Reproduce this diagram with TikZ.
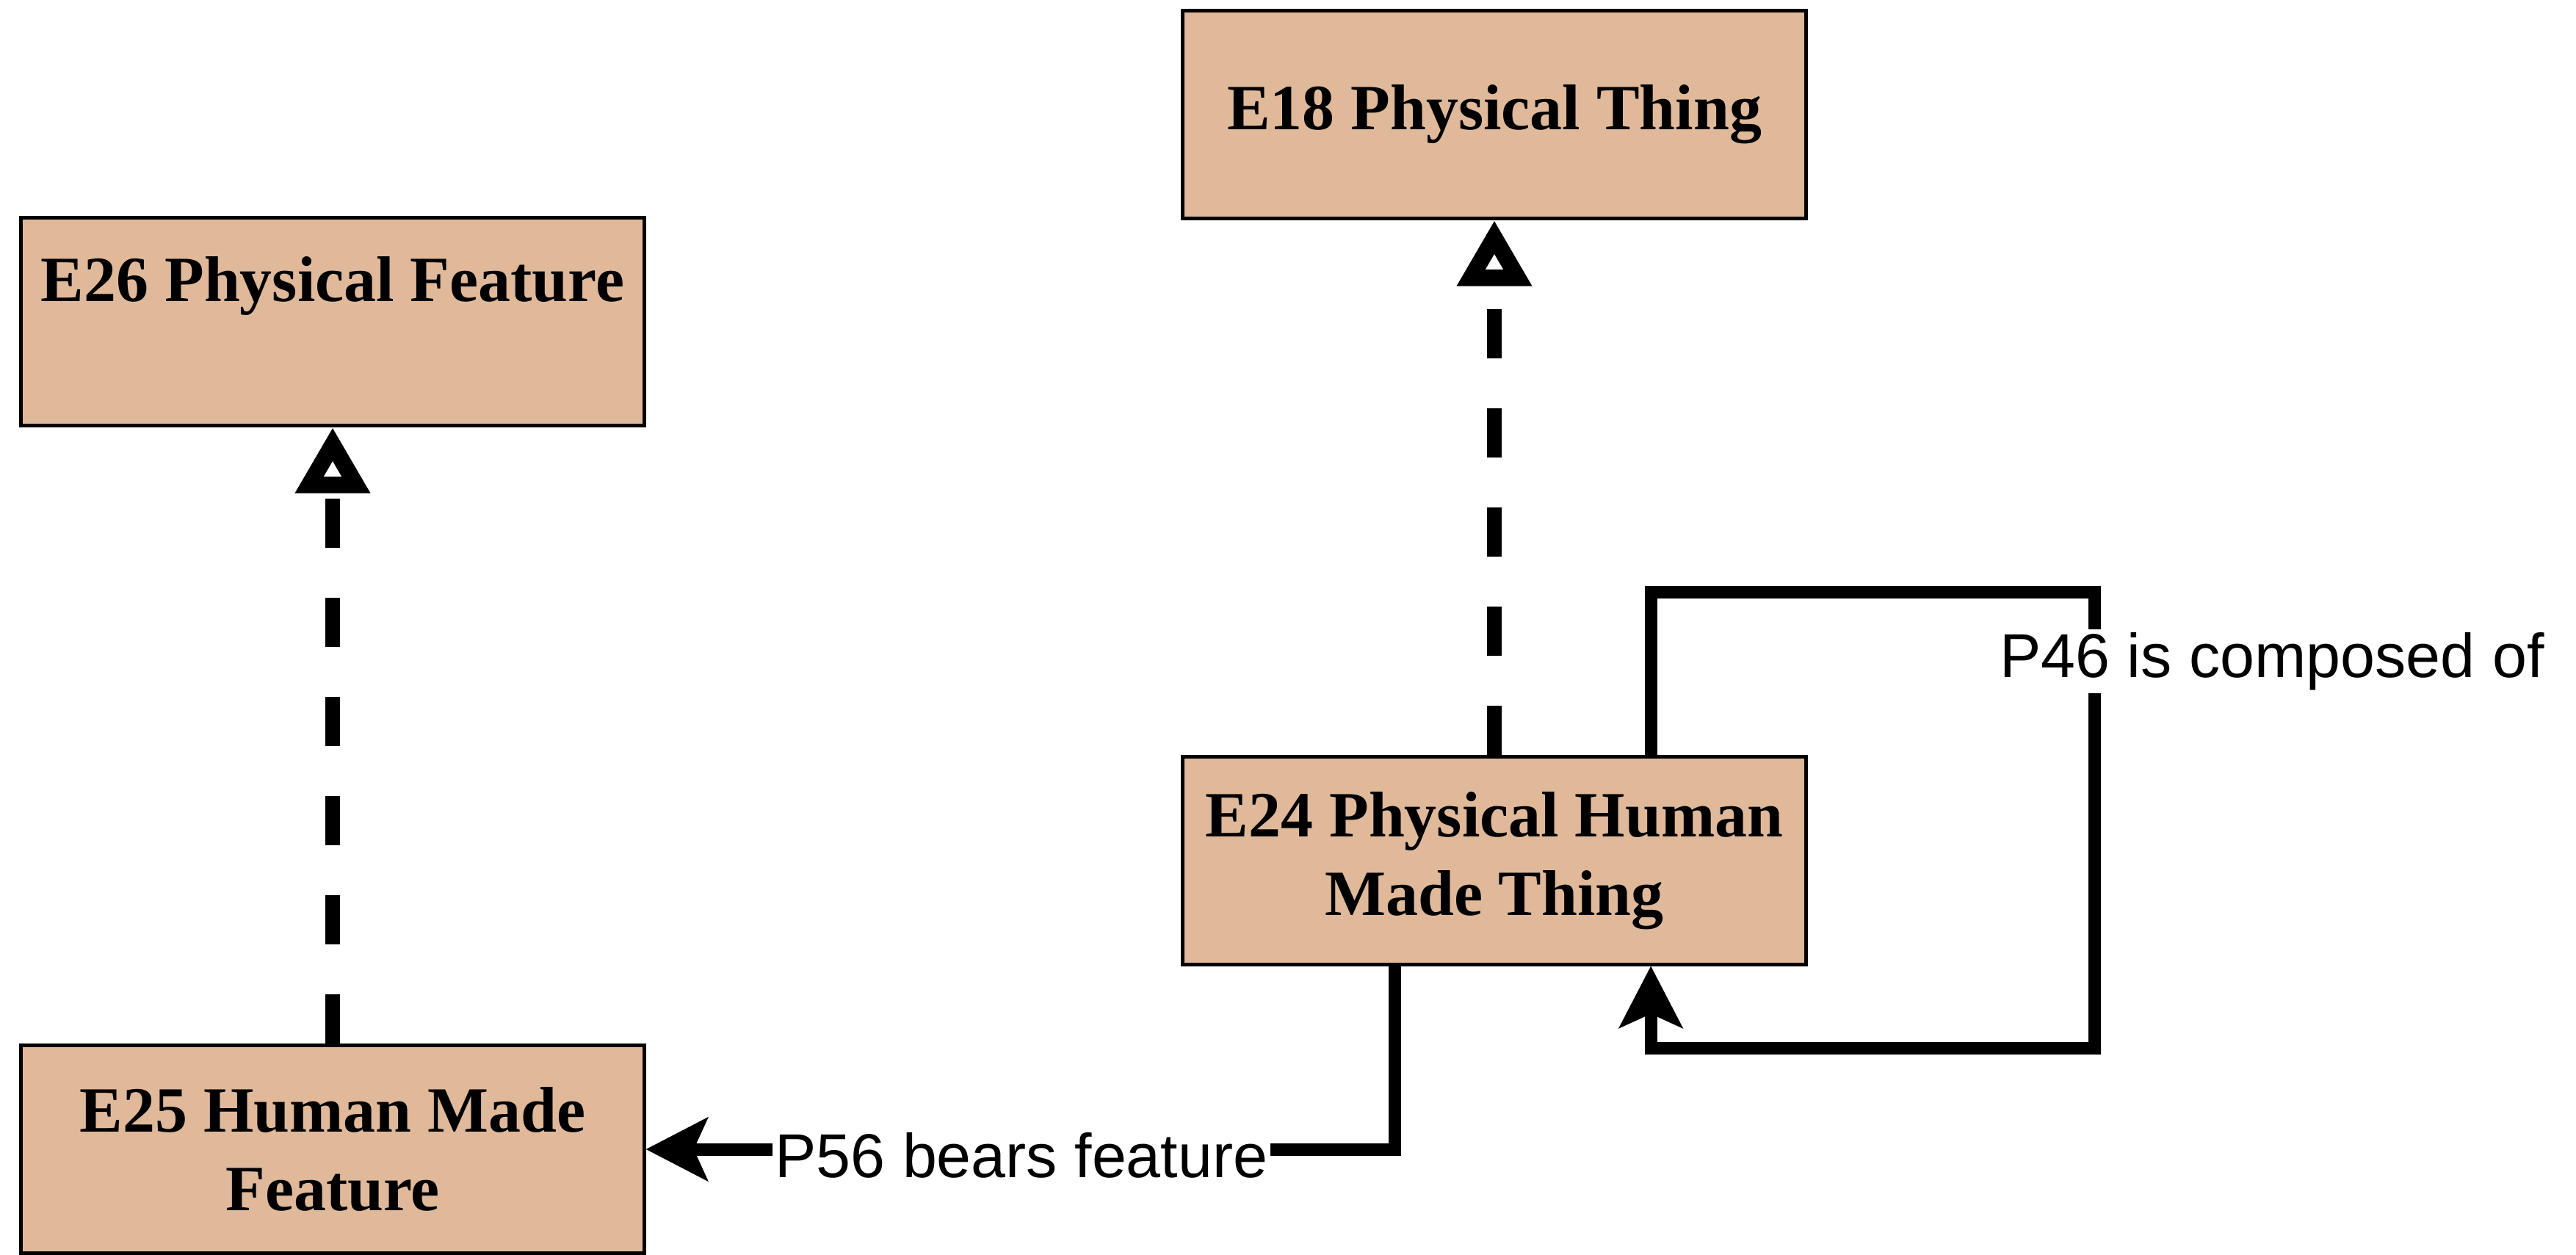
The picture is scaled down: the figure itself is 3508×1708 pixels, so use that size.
\documentclass[tikz,border=0pt]{standalone}
\usepackage{fontspec}
\setmainfont{Liberation Serif}
\newfontfamily\lblfont{Liberation Sans}
\usetikzlibrary{arrows.meta}
\definecolor{boxfill}{RGB}{224,185,155}
\begin{document}
\begin{tikzpicture}[x=0.01cm,y=-0.01cm,
  classbox/.style={draw=black, line width=0.5mm, fill=boxfill,
    minimum width=8.48cm, minimum height=2.82cm, inner sep=0pt,
    align=center, text=black,
    font=\fontsize{25pt}{30.4pt}\selectfont\bfseries},
  boxtext/.style={inner sep=0pt, text=black,
    font=\fontsize{25pt}{30.4pt}\selectfont\bfseries},
  isa/.style={line width=2mm, dash pattern=on 6.7mm off 6.8mm,
    -{Triangle[open, length=9mm, width=9.6mm, line width=4mm]}},
  conn/.style={line width=1.7mm, line join=miter,
    -{Stealth[length=8.5mm, width=8.8mm, inset=2mm, line width=0.3mm]}},
  lbl/.style={fill=white, inner sep=0.4mm, text=black,
    font=\lblfont\fontsize{24pt}{28pt}\selectfont}]
\useasboundingbox (0,0) rectangle (3508,1708);

% classes
\node[classbox] (e18) at (2035,156) {E18 Physical Thing};
\node[classbox] (e26) at (453,438) {};
\node[boxtext, anchor=base] (e26t) at (453,410) {E26 Physical Feature};
\node[classbox] (e24) at (2035,1172) {E24 Physical Human\\Made Thing};
\node[classbox] (e25) at (453,1565) {E25 Human Made\\Feature};

% subclass links
\draw[isa] (e24.north) -- (e18.south);
\draw[isa] (e25.north) -- (e26.south);

% P46 self loop
\coordinate (loopNE) at (2852,806);
\coordinate (loopSE) at (2852,1427);
\draw[conn] ([xshift=2.13cm]e24.north) |- (loopNE) -- (loopSE) -| ([xshift=2.13cm]e24.south);
\node[lbl, anchor=base] (p46) at (3094,922) {P46 is composed of};

% P56 link
\draw[conn] ([xshift=-1.35cm]e24.south) |- (e25.east);
\node[lbl, anchor=base] (p56) at (1391,1603) {P56 bears feature};
\end{tikzpicture}
\end{document}
